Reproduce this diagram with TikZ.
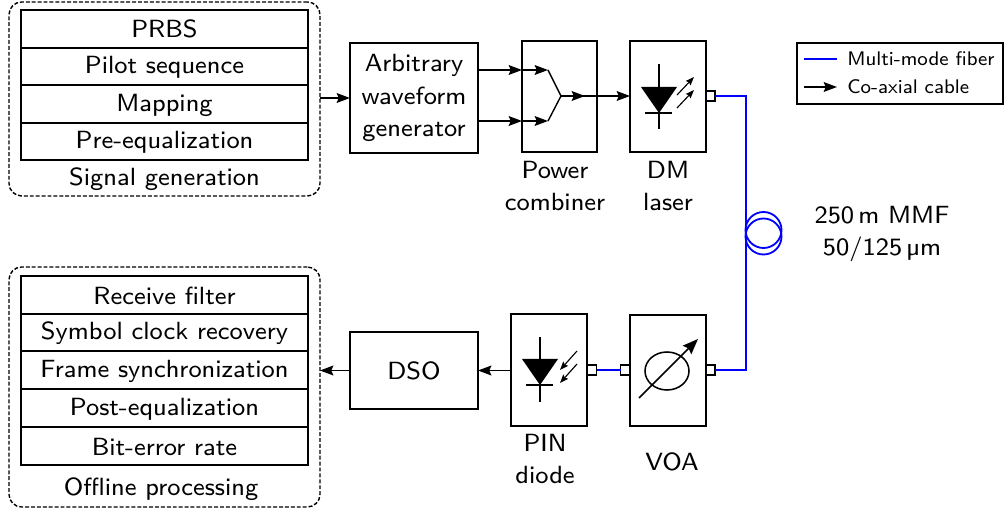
\documentclass[tikz,border=0pt]{standalone}
\usepackage{tikz}
\usepackage{xcolor}
\usetikzlibrary{arrows.meta,positioning,shapes,calc}
\renewcommand{\familydefault}{\sfdefault}
\definecolor{ink}{HTML}{000000}
\definecolor{fiberblue}{HTML}{0000FF}
\font\mainfont="[lmsans8-regular]" at 17.7pt
\font\legendfont="[lmsans8-regular]" at 14pt
\newcommand{\blockfont}{\mainfont\setlength{\baselineskip}{23pt}}
\tikzset{
  stackbox/.style={draw=ink,line width=1.35pt,minimum width=287*0.025cm,inner sep=0pt,outer sep=0pt,
                   text height=14pt,text depth=4pt,anchor=north,align=center,font=\mainfont},
  groupbox/.style={draw=ink,dash pattern=on 2.8pt off 1.4pt,rounded corners=9pt,line width=1pt,
                   inner sep=0pt,outer sep=0pt,anchor=north west},
  devbox/.style={draw=ink,line width=1.35pt,inner sep=0pt,outer sep=0pt,align=center,anchor=north west,
                 font=\blockfont},
  portbox/.style={draw=ink,fill=white,line width=1pt,minimum width=9*0.025cm,minimum height=10*0.025cm,
                  inner sep=0pt,outer sep=0pt},
  caption/.style={align=center,font=\blockfont,inner sep=0pt},
  coaxarr/.style={-{Stealth[length=9.5pt,width=7pt,inset=1.5pt]},line width=1pt},
  voaarr/.style={-{Stealth[length=11pt,width=8.5pt,inset=1.5pt]},line width=1.1pt},
  smallarr/.style={-{Stealth[length=6pt,width=4.5pt,inset=0.8pt]},line width=0.8pt},
  fiber/.style={draw=fiberblue,line width=1.3pt}
}
\begin{document}
\begin{tikzpicture}[x=0.025cm,y=-0.025cm]
  \useasboundingbox (0,0) rectangle (1005,510);

  % transmitter side
  \node[groupbox,minimum width=311*0.025cm,minimum height=194*0.025cm] (txgroup) at (9,2) {};
  \node[stackbox,minimum height=38*0.025cm,text depth=2.5pt] (prbs) at (164.5,10) {PRBS};
  \node[stackbox,minimum height=37*0.025cm] (pilot) at (164.5,48) {Pilot sequence};
  \node[stackbox,minimum height=38*0.025cm] (mapping) at (164.5,85) {Mapping};
  \node[stackbox,minimum height=37*0.025cm] (preeq) at (164.5,123) {Pre-equalization};
  \node[caption] (txlabel) at (164.5,179) {Signal generation};

  \node[devbox,minimum width=128*0.025cm,minimum height=110*0.025cm] (awg) at (350,43) {Arbitrary\\waveform\\generator};
  \node[devbox,minimum width=75*0.025cm,minimum height=111*0.025cm] (combiner) at (522,41) {};
  \node[devbox,minimum width=76*0.025cm,minimum height=111*0.025cm] (laser) at (630,41) {};
  \node[portbox] (laserport) at (710.5,96) {};
  \node[caption] (combinerlabel) at (555,186) {Power\\combiner};
  \node[caption] (laserlabel) at (668,186) {DM\\laser};

  % receiver side
  \node[groupbox,minimum width=311*0.025cm,minimum height=240*0.025cm] (rxgroup) at (9,267) {};
  \node[stackbox,minimum height=38*0.025cm,text depth=1pt] (rxfilter) at (164.5,276) {Receive filter};
  \node[stackbox,minimum height=37*0.025cm] (clock) at (164.5,314) {Symbol clock recovery};
  \node[stackbox,minimum height=38*0.025cm] (framesync) at (164.5,351) {Frame synchronization};
  \node[stackbox,minimum height=38*0.025cm] (posteq) at (164.5,389) {Post-equalization};
  \node[stackbox,minimum height=38*0.025cm,text depth=1pt] (ber) at (164.5,427) {Bit-error rate};
  \node[caption] (rxlabel) at (161,489) {Offline processing};

  \node[devbox,minimum width=128*0.025cm,minimum height=77*0.025cm] (dso) at (350,332) {DSO};
  \node[devbox,minimum width=76*0.025cm,minimum height=112*0.025cm] (pin) at (511,314) {};
  \node[devbox,minimum width=76*0.025cm,minimum height=111*0.025cm] (voa) at (630,315) {};
  \node[portbox] (pinport) at (592,370) {};
  \node[portbox] (voainport) at (625,370) {};
  \node[portbox] (voaoutport) at (710.5,370) {};
  \node[caption] (pinlabel) at (545,459) {PIN\\diode};
  \node[caption] (voalabel) at (672,462) {VOA};

  % fiber coil
  \coordinate (fiberbend) at (746,230);
  \draw[fiber] (laserport) -| (fiberbend) |- (voaoutport);
  \draw[fiber] (pinport) -- (voainport);
  \node[circle,draw=fiberblue,line width=1.3pt,minimum size=36*0.025cm,inner sep=0pt] (coilup) at (763.5,230) {};
  \node[circle,draw=fiberblue,line width=1.3pt,minimum size=36*0.025cm,inner sep=0pt] (coildown) at (763.5,236.5) {};
  \node[caption] (mmflabel) at (882,234) {250\,m MMF\\50/125\,µm};

  % coax connections
  \coordinate (joinup) at (548,70);
  \coordinate (joindown) at (548,121);
  \coordinate (joinout) at (561,96);
  \draw[coaxarr] (txgroup.east |- awg.west) -- (awg.west);
  \draw[coaxarr] (awg.east |- joinup) -- (combiner.west |- joinup);
  \draw[coaxarr] (awg.east |- joindown) -- (combiner.west |- joindown);
  \draw[coaxarr] (combiner.west |- joinup) -- (joinup);
  \draw[coaxarr] (combiner.west |- joindown) -- (joindown);
  \draw[line width=1pt] (joinup) -- (joinout) -- (joindown);
  \draw[coaxarr] (joinout) -- (585,96);
  \draw[coaxarr] (joinout) -- (laser.west |- joinout);
  \draw[coaxarr] (pin.west |- dso.east) -- (dso.east);
  \draw[coaxarr] (dso.west) -- (rxgroup.east |- dso.west);

  % laser symbol
  \draw[line width=1.1pt] (659,64) -- (659,129);
  \fill[ink] (641,87) -- (677,87) -- (659,113) -- cycle;
  \draw[line width=1.1pt] (645,113) -- (672,113);
  \draw[smallarr] (677,95) -- (694,77);
  \draw[smallarr] (677,108) -- (694,90);

  % photodiode symbol
  \draw[line width=1.1pt] (540,337) -- (540,402);
  \fill[ink] (522,359) -- (558,359) -- (540,385) -- cycle;
  \draw[line width=1.1pt] (526,385) -- (553,385);
  \draw[smallarr] (577,351) -- (560,370);
  \draw[smallarr] (577,364) -- (560,383);

  % attenuator symbol
  \draw[line width=1.1pt] (667,371) ellipse (22 and 19);
  \draw[voaarr] (639,398) -- (698,339);

  % legend
  \node[devbox,minimum width=206*0.025cm,minimum height=61*0.025cm] (legend) at (797,43) {};
  \coordinate (legblue) at (804,59);
  \coordinate (legblack) at (804,87);
  \node[caption,anchor=west,font=\legendfont] (legfiber) at (847,59) {Multi-mode fiber};
  \node[caption,anchor=west,font=\legendfont] (legcoax) at (847,87) {Co-axial cable};
  \draw[fiber] (legblue) -- (837,59);
  \draw[coaxarr] (legblack) -- (837,87);
\end{tikzpicture}
\end{document}
